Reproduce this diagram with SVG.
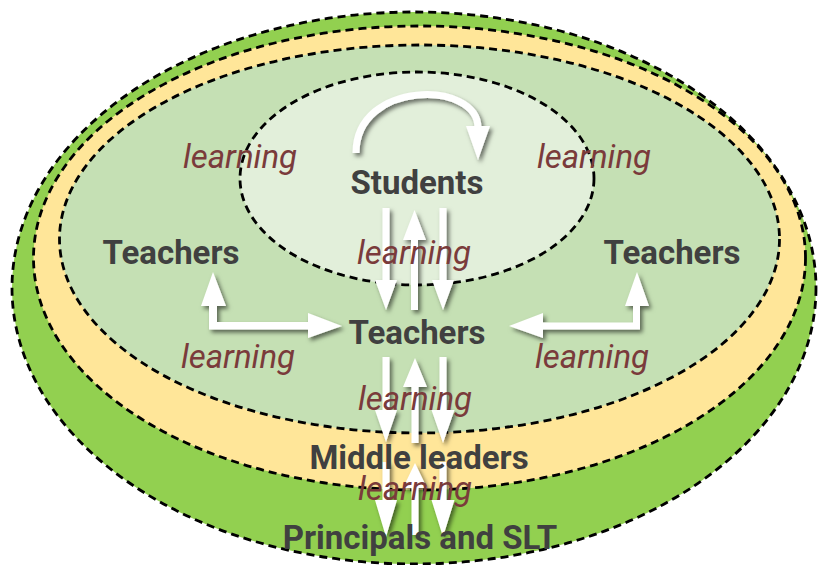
<svg xmlns="http://www.w3.org/2000/svg" width="818" height="565" viewBox="0 0 818 565">
  <style>
    .ring { stroke: #000; stroke-width: 2.8; stroke-dasharray: 8 5; }
    .label { font-family: Roboto, "Liberation Sans", sans-serif; font-weight: 700; font-size: 33px; fill: #404040; text-anchor: middle; }
    .flow { font-family: Roboto, "Liberation Sans", sans-serif; font-style: italic; font-size: 33px; fill: #7a3b3b; text-anchor: middle; }
    .arrow { fill: #fff; }
    .arc { fill: none; stroke: #fff; stroke-width: 7; }
  </style>
  <defs>
    <filter id="shadow" x="-30%" y="-30%" width="160%" height="160%">
      <feDropShadow dx="2.5" dy="3" stdDeviation="2.2" flood-color="#000" flood-opacity="0.55"/>
    </filter>
  </defs>

  <!-- nested layers, outermost first -->
  <g id="layers">
    <ellipse id="layer-principals" class="ring" cx="414" cy="288" rx="402" ry="276" fill="#92d050"/>
    <ellipse id="layer-middle" class="ring" cx="419.5" cy="258" rx="386" ry="232" fill="#ffe699"/>
    <ellipse id="layer-teachers" class="ring" cx="419.5" cy="239" rx="360" ry="194" fill="#c5e0b4"/>
    <ellipse id="layer-students" class="ring" cx="417" cy="178.5" rx="177" ry="106.5" fill="#e2efda"/>
  </g>

  <!-- arrows -->
  <g id="connectors" filter="url(#shadow)">
    <!-- students loop -->
    <path class="arc" d="M356,153 C356,80 478,80 478,128"/>
    <polygon class="arrow" points="466,126 490,126 478,160"/>

    <!-- students / teachers -->
    <polygon class="arrow" points="382.5,208 389.5,208 389.5,280 397,280 386,310 375,280 382.5,280"/>
    <polygon class="arrow" points="411,310 418,310 418,240 426,240 414.5,210 403,240 411,240"/>
    <polygon class="arrow" points="439.5,208 446.5,208 446.5,280 454,280 443,310 432,280 439.5,280"/>

    <!-- teachers / middle leaders -->
    <polygon class="arrow" points="382.5,357 389.5,357 389.5,410 397,410 386,442 375,410 382.5,410"/>
    <polygon class="arrow" points="411.5,443 418.5,443 418.5,387 427,387 415,358 403,387 411.5,387"/>
    <polygon class="arrow" points="439.5,357 446.5,357 446.5,410 454.5,410 443,443 431.5,410 439.5,410"/>

    <!-- middle leaders / principals -->
    <polygon class="arrow" points="382.5,462 389.5,462 389.5,500 397,500 386,537 375,500 382.5,500"/>
    <polygon class="arrow" points="411.5,535 418.5,535 418.5,488 427,488 415,463 403,488 411.5,488"/>
    <polygon class="arrow" points="439.5,462 446.5,462 446.5,500 454.5,500 443,537 431.5,500 439.5,500"/>

    <!-- peer teachers, left -->
    <polygon class="arrow" points="209,306 201,306 213,272 226,306 217,306 217,322 308,322 308,313 342,326 308,338 308,329.5 209,329.5"/>
    <!-- peer teachers, right -->
    <polygon class="arrow" points="640,306 649,306 637,272 625,306 633,306 633,322.5 543,322.5 543,313 509,326 543,338 543,329.5 640,329.5"/>
  </g>

  <!-- flow labels -->
  <g id="flow-labels">
    <text class="flow" x="240" y="168">learning</text>
    <text class="flow" x="594" y="168">learning</text>
    <text class="flow" x="414" y="264">learning</text>
    <text class="flow" x="238" y="368">learning</text>
    <text class="flow" x="592" y="368">learning</text>
    <text class="flow" x="415" y="410">learning</text>
    <text class="flow" x="415" y="500">learning</text>
  </g>

  <g id="students"><text class="label" x="417" y="194">Students</text></g>
  <g id="teachers-left"><text class="label" x="171" y="264">Teachers</text></g>
  <g id="teachers-right"><text class="label" x="672" y="264">Teachers</text></g>
  <g id="teachers"><text class="label" x="417" y="344">Teachers</text></g>
  <g id="middle-leaders"><text class="label" x="419" y="469">Middle leaders</text></g>
  <g id="principals"><text class="label" x="420" y="549">Principals and SLT</text></g>
</svg>
